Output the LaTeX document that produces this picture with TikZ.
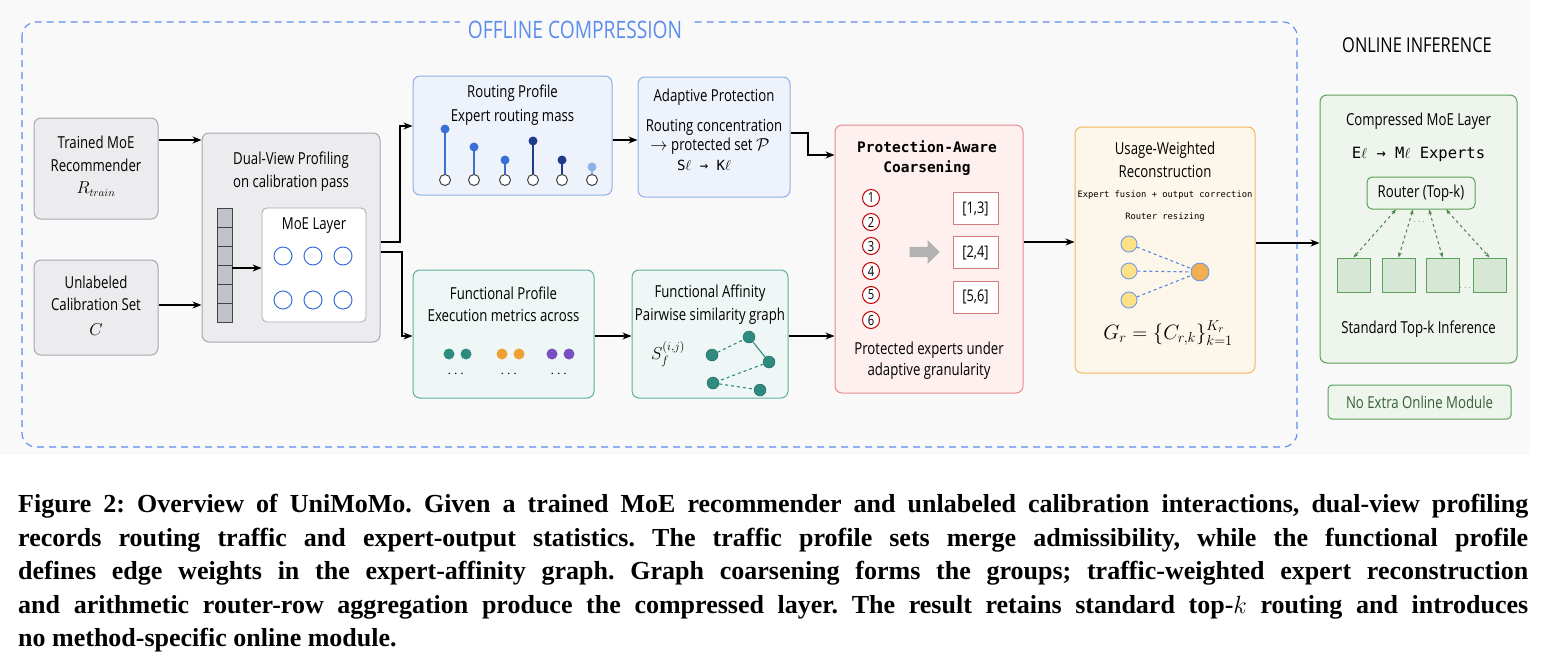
\documentclass[tikz,border=0pt]{standalone}
\usepackage{fontspec}
\usepackage{amsmath}
\usetikzlibrary{arrows.meta,shapes.arrows}
\newfontfamily\dsans[FakeStretch=0.8]{Open Sans}
\newfontfamily\dmono{DejaVu Sans Mono}
\newfontfamily\capfont{Liberation Serif}
\frenchspacing
\definecolor{bgc}{HTML}{F9F9F9}
\definecolor{gfill}{HTML}{ECECEE}
\definecolor{gline}{HTML}{A4A8B2}
\definecolor{bfill}{HTML}{EEF3FB}
\definecolor{bline}{HTML}{8FB0E6}
\definecolor{tfill}{HTML}{EEF7F5}
\definecolor{tline}{HTML}{5FAE9F}
\definecolor{rfill}{HTML}{FDF0EF}
\definecolor{rline}{HTML}{E98A8A}
\definecolor{ofill}{HTML}{FDF6EA}
\definecolor{oline}{HTML}{F5B55A}
\definecolor{vfill}{HTML}{EEF5EC}
\definecolor{vline}{HTML}{5CA05C}
\definecolor{dblue}{HTML}{5B8DEF}
\definecolor{ublue}{HTML}{3A6FD8}
\definecolor{nblue}{HTML}{1F3A8A}
\definecolor{teal1}{HTML}{2E8B80}
\definecolor{org1}{HTML}{EFA034}
\definecolor{pur1}{HTML}{7B4FC4}
\tikzset{
  x=1pt,y=-1pt,
  box/.style={draw,rounded corners=7pt,line width=1pt,inner sep=0pt},
  gbox/.style={box,fill=gfill,draw=gline},
  bbox/.style={box,fill=bfill,draw=bline},
  tbox/.style={box,fill=tfill,draw=tline},
  rbox/.style={box,fill=rfill,draw=rline},
  obox/.style={box,fill=ofill,draw=oline},
  vbox/.style={box,fill=vfill,draw=vline},
  txt/.style={font=\dsans\fontsize{16.5}{18}\selectfont,inner sep=0pt,align=center},
  arr/.style={-{Stealth[length=9pt,width=7pt]},line width=1.1pt},
  num/.style={circle,draw=red!75!black,line width=1pt,fill=white,minimum size=17pt,inner sep=0pt,font=\dsans\fontsize{14}{14}\selectfont},
  gnode/.style={circle,fill=teal1,draw=teal1!70!black,minimum size=12pt,inner sep=0pt},
  bracket/.style={draw=rline!90!black,line width=1pt,fill=white,minimum width=45pt,minimum height=32pt,inner sep=0pt,font=\dsans\fontsize{16}{16}\selectfont},
  sq/.style={draw=vline,fill=vline!25,line width=1pt,minimum width=33pt,minimum height=34pt,inner sep=0pt},
  capline/.style={anchor=west,inner sep=0pt,font=\capfont\bfseries\fontsize{26}{28}\selectfont},
}
\newcommand{\Ell}{$\ell$}
\begin{document}
\begin{tikzpicture}
\useasboundingbox (0,0) rectangle (1544,669);
\fill[bgc] (0,0) rectangle (1530,455);
% offline dashed frame
\draw[dblue,line width=1.1pt,dash pattern=on 7pt off 5pt,rounded corners=14pt] (22,22) rectangle (1297,447);
\node[fill=bgc,inner xsep=8pt,inner ysep=2pt,text=dblue,font=\dsans\fontsize{24}{24}\selectfont] (offl) at (575,30) {OFFLINE COMPRESSION};
\node[font=\dsans\fontsize{20.5}{20}\selectfont] (onl) at (1417,45) {ONLINE INFERENCE};

% inputs
\node[gbox,minimum width=124pt,minimum height=101pt] (trained) at (96,168.5) {};
\node[txt] at (96,142) {Trained MoE};
\node[txt] at (96,165) {Recommender};
\node[inner sep=0pt] at (96,189) {\fontsize{16}{16}\selectfont$R_{train}$};
\node[gbox,minimum width=124pt,minimum height=95pt] (unlab) at (96,307.5) {};
\node[txt] at (96,282) {Unlabeled};
\node[txt] at (96,304) {Calibration Set};
\node[inner sep=0pt] at (96,330) {\fontsize{19}{19}\selectfont$C$};

% dual view
\node[gbox,minimum width=178pt,minimum height=209pt] (dual) at (291,237.5) {};
\node[txt] at (291,160) {Dual-View Profiling};
\node[txt] at (291,183) {on calibration pass};
\foreach \i in {0,...,5}{\draw[fill=gline!70,draw=gline!40!black,line width=0.7pt] (217,208+\i*19) rectangle (232,227+\i*19);}
\coordinate (bar) at (232,268);
\node[draw=gline,fill=white,rounded corners=5pt,line width=0.8pt,minimum width=104pt,minimum height=114pt,inner sep=0pt] (moe) at (314,265) {};
\node[txt] at (314,226) {MoE Layer};
\foreach \xx in {283,313,343}{\foreach \yy in {256,300}{\node[circle,draw=ublue,line width=1pt,minimum size=18pt,inner sep=0pt] at (\xx,\yy) {};}}
\draw[arr] (bar) -- (moe.west |- bar);
\draw[arr] (trained.east |- 0,140) -- (dual.west |- 0,140);
\draw[arr] (unlab.east |- 0,305) -- (dual.west |- 0,305);

% routing profile
\node[bbox,minimum width=199pt,minimum height=119pt] (route) at (512.5,135.5) {};
\node[txt] at (512.5,93) {Routing Profile};
\node[txt] at (512.5,117) {Expert routing mass};
\foreach \xx/\yy/\cc in {445/129/ublue,474/147/ublue,505/160/ublue,533/141/nblue,562/160/nblue,592/167/bline}{
  \draw[\cc,line width=1.2pt] (\xx,\yy) -- (\xx,174);
  \fill[\cc] (\xx,\yy) circle (4.5pt);
  \draw[black!75,fill=white,line width=1pt] (\xx,180) circle (5.5pt);
}
\draw[arr] (dual.east |- 0,242) -- (400,242) -- (400,126) -- (route.west |- 0,126);

% adaptive protection
\node[bbox,minimum width=152pt,minimum height=120pt] (adapt) at (714,137) {};
\node[txt] at (714,97) {Adaptive Protection};
\node[txt] at (714,127) {Routing concentration};
\node[txt] at (710,146) {$\rightarrow$ protected set $\mathcal{P}$};
\node[inner sep=0pt,font=\dmono\fontsize{14}{14}\selectfont] at (704,165) {S\Ell{} → K\Ell};
\draw[arr] (route.east |- 0,140) -- (adapt.west |- 0,140);

% functional profile
\node[tbox,minimum width=181pt,minimum height=128pt] (func) at (503.5,334) {};
\node[txt] at (503.5,293) {Functional Profile};
\node[txt] at (503.5,316) {Execution metrics across};
\foreach \xx/\cc in {449/teal1,466/teal1,502/org1,519/org1,552/pur1,569/pur1}{\fill[\cc] (\xx,354) circle (5.5pt);}
\foreach \xx in {457,510,560}{\node[inner sep=0pt,font=\bfseries\fontsize{14}{14}\selectfont] at (\xx,374) {$\cdots$};}
\draw[arr] (dual.east |- 0,252) -- (402,252) -- (402,336) -- (func.west |- 0,336);

% functional affinity
\node[tbox,minimum width=156pt,minimum height=128pt] (aff) at (710,334) {};
\node[txt] at (710,293) {Functional Affinity};
\node[txt] at (710,316) {Pairwise similarity graph};
\node[inner sep=0pt] at (668,354) {\fontsize{18}{18}\selectfont$S_f^{(i,j)}$};
\node[gnode] (g1) at (712,355) {};
\node[gnode] (g2) at (749,337) {};
\node[gnode] (g3) at (769,362) {};
\node[gnode] (g4) at (713,383) {};
\node[gnode] (g5) at (760,390) {};
\draw[teal1,line width=1.1pt,dashed] (g1) -- (g2);
\draw[teal1,line width=1.1pt] (g2) -- (g3);
\draw[teal1,line width=1.1pt,dashed] (g3) -- (g4);
\draw[teal1,line width=1.1pt,dashed] (g4) -- (g5);
\draw[arr] (func.east |- 0,336) -- (aff.west |- 0,336);

% coarsening
\node[rbox,minimum width=188pt,minimum height=268pt] (coarse) at (929,259) {};
\node[inner sep=0pt,align=center,font=\dmono\bfseries\fontsize{14.5}{20}\selectfont] at (927,158) {Protection-Aware\\Coarsening};
\foreach \n/\yy in {1/198,2/222,3/246,4/271,5/295,6/320}{\node[num] (n\n) at (871,\yy) {\n};}
\node[single arrow,fill=gray!60,draw=none,minimum height=30pt,minimum width=24pt,single arrow head extend=3pt,inner sep=2pt] (garr) at (922,252) {};
\node[bracket] (b1) at (975.5,208.5) {[1,3]};
\node[bracket] (b2) at (975.5,252.5) {[2,4]};
\node[bracket] (b3) at (975.5,297) {[5,6]};
\node[txt] at (929,350) {Protected experts under};
\node[txt] at (929,371) {adaptive granularity};
\draw[arr] (adapt.east |- 0,133) -- (808,133) -- (808,155) -- (coarse.west |- 0,155);
\draw[arr] (aff.east |- 0,336) -- (coarse.west |- 0,336);

% usage weighted
\node[obox,minimum width=180pt,minimum height=246pt] (usage) at (1165,250) {};
\node[txt] at (1165,150) {Usage-Weighted};
\node[txt] at (1165,172) {Reconstruction};
\node[inner sep=0pt,font=\dmono\fontsize{8.8}{9}\selectfont] at (1165,195) {Expert fusion + output correction};
\node[inner sep=0pt,font=\dmono\fontsize{8.8}{9}\selectfont] at (1165,217) {Router resizing};
\node[circle,fill=yellow!55!orange!45,draw=ublue!70,line width=0.9pt,minimum size=16pt,inner sep=0pt] (u1) at (1129,244) {};
\node[circle,fill=yellow!55!orange!45,draw=ublue!70,line width=0.9pt,minimum size=16pt,inner sep=0pt] (u2) at (1129,271) {};
\node[circle,fill=yellow!55!orange!45,draw=ublue!70,line width=0.9pt,minimum size=16pt,inner sep=0pt] (u3) at (1129,300) {};
\node[circle,fill=org1!85,draw=ublue!70,line width=0.9pt,minimum size=18pt,inner sep=0pt] (u4) at (1200,272) {};
\foreach \u in {u1,u2,u3}{\draw[ublue!85,dashed,line width=1.1pt] (\u) -- (u4);}
\node[inner sep=0pt] at (1168,333) {\fontsize{21}{21}\selectfont$G_r=\{C_{r,k}\}_{k=1}^{K_r}$};
\draw[arr] (coarse.east |- 0,242) -- (usage.west |- 0,242);

% compressed
\node[vbox,minimum width=197pt,minimum height=268pt] (comp) at (1418.5,229) {};
\node[txt] at (1418.5,121) {Compressed MoE Layer};
\node[inner sep=0pt,font=\dmono\fontsize{15.5}{15}\selectfont] at (1418.5,154) {E\Ell{} → M\Ell{} Experts};
\node[draw=vline,fill=vfill,rounded corners=5pt,line width=1pt,minimum width=108pt,minimum height=32pt,inner sep=0pt,txt] (router) at (1421,193) {Router (Top-k)};
\node[sq] (s1) at (1353.5,275) {};
\node[sq] (s2) at (1398.5,275) {};
\node[sq] (s3) at (1442.5,275) {};
\node[sq] (s4) at (1489.5,275) {};
\foreach \s/\dx in {s1/-25,s2/-8,s3/8,s4/25}{\draw[{Stealth[length=5pt]}-{Stealth[length=5pt]},vline!80!black,dashed,line width=1pt] ([xshift=\dx pt]router.south) -- (\s.north);}
\node[inner sep=0pt,text=gray,font=\fontsize{10}{10}\selectfont] at (1420,222) {$\cdots$};
\node[inner sep=0pt,text=gray,font=\fontsize{10}{10}\selectfont] at (1466,288) {$\cdots$};
\node[txt] at (1418.5,329) {Standard Top-k Inference};
\node[draw=vline,fill=vfill,rounded corners=4pt,line width=1pt,minimum width=183pt,minimum height=34pt,inner sep=0pt,txt,text=vline!60!black] (noext) at (1419.5,402) {No Extra Online Module};
\draw[arr] (usage.east |- 0,243) -- (comp.west |- 0,243);

% caption
\node[capline] (c1) at (18,506) {\makebox[1510pt][s]{Figure 2: Overview of UniMoMo. Given a trained MoE recommender and unlabeled calibration interactions, dual-view profiling}};
\node[capline] (c2) at (18,540) {\makebox[1510pt][s]{records routing traffic and expert-output statistics. The traffic profile sets merge admissibility, while the functional profile}};
\node[capline] (c3) at (18,573) {\makebox[1510pt][s]{defines edge weights in the expert-affinity graph. Graph coarsening forms the groups; traffic-weighted expert reconstruction}};
\node[capline] (c4) at (18,607) {\makebox[1510pt][s]{and arithmetic router-row aggregation produce the compressed layer. The result retains standard top-$k$ routing and introduces}};
\node[capline] (c5) at (18,640) {no method-specific online module.};
\end{tikzpicture}
\end{document}
